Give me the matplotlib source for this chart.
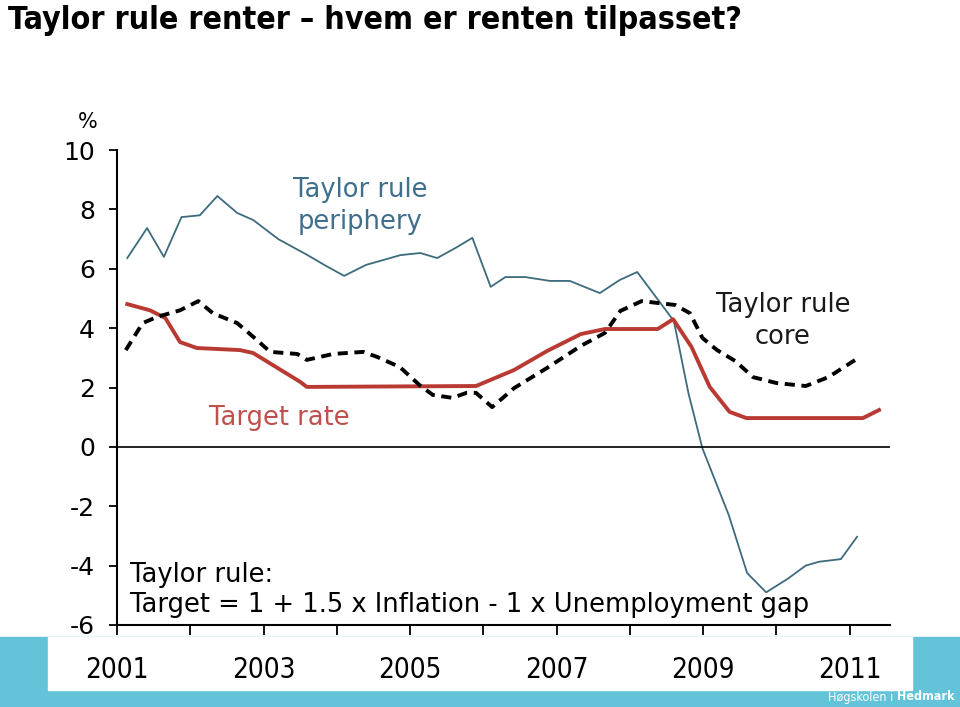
import matplotlib.pyplot as plt
from matplotlib.patches import Rectangle

# data (year, percent)
periphery_x = [2001.14, 2001.41, 2001.64, 2001.88, 2002.13, 2002.37, 2002.64, 2002.86,
               2003.2, 2003.6, 2003.85, 2004.1, 2004.4, 2004.87, 2005.14, 2005.37,
               2005.62, 2005.85, 2006.1, 2006.3, 2006.57, 2006.91, 2007.18, 2007.59,
               2007.86, 2008.1, 2008.6, 2008.8, 2008.99, 2009.35, 2009.6, 2009.86,
               2010.15, 2010.4, 2010.58, 2010.88, 2011.1]
periphery_y = [6.36, 7.37, 6.4, 7.74, 7.8, 8.45, 7.88, 7.64,
               7.0, 6.46, 6.1, 5.76, 6.13, 6.46, 6.53, 6.36,
               6.7, 7.04, 5.39, 5.72, 5.72, 5.59, 5.59, 5.18,
               5.62, 5.89, 4.24, 1.8, -0.05, -2.3, -4.25, -4.9,
               -4.45, -4.0, -3.87, -3.78, -3.03]

core_x = [2001.12, 2001.35, 2001.55, 2001.86, 2002.11, 2002.31, 2002.64, 2002.91,
          2003.09, 2003.46, 2003.59, 2003.95, 2004.36, 2004.55, 2004.86, 2005.13,
          2005.31, 2005.58, 2005.77, 2005.9, 2006.12, 2006.42, 2006.87, 2007.33,
          2007.66, 2007.87, 2008.16, 2008.37, 2008.62, 2008.82, 2008.99, 2009.19,
          2009.44, 2009.68, 2010.0, 2010.4, 2010.71, 2011.12]
core_y = [3.26, 4.17, 4.38, 4.6, 4.91, 4.5, 4.17, 3.6,
          3.2, 3.13, 2.93, 3.13, 3.2, 3.03, 2.69, 2.08,
          1.75, 1.65, 1.82, 1.82, 1.34, 1.98, 2.66, 3.4,
          3.84, 4.58, 4.91, 4.85, 4.78, 4.5, 3.67, 3.26,
          2.89, 2.35, 2.15, 2.05, 2.35, 3.0]

target_x = [2001.14, 2001.45, 2001.66, 2001.86, 2002.09, 2002.68, 2002.86, 2003.5,
            2003.59, 2005.9, 2006.42, 2006.87, 2007.33, 2007.66, 2008.38, 2008.59,
            2008.84, 2009.09, 2009.36, 2009.59, 2011.18, 2011.4]
target_y = [4.81, 4.6, 4.34, 3.53, 3.33, 3.26, 3.16, 2.19,
            2.02, 2.05, 2.59, 3.23, 3.8, 3.97, 3.97, 4.3,
            3.37, 2.02, 1.18, 0.97, 0.97, 1.24]

year_ticks = list(range(2001, 2012))
year_labels = ["2001", "2003", "2005", "2007", "2009", "2011"]
y_ticks = [-6, -4, -2, 0, 2, 4, 6, 8, 10]

blue = "#3d6b7d"
red = "#b93a32"

fig = plt.figure(figsize=(9.6, 7.07), dpi=100)

# footer band
fig.patches.append(Rectangle((0, 0), 1, 70 / 707, transform=fig.transFigure,
                             color="#63c3d9", zorder=-2))
fig.patches.append(Rectangle((48 / 960, 17 / 707), 864 / 960, 53 / 707,
                             transform=fig.transFigure, color="white", zorder=-1))
fig.text(893 / 960, 10 / 707, "Høgskolen i", color="white", fontsize=9,
         stretch="condensed", ha="right", va="center")
fig.text(897 / 960, 10 / 707, "Hedmark", color="white", fontsize=9,
         stretch="condensed", weight="bold", ha="left", va="center")

fig.text(8 / 960, 1 - 20 / 707, "Taylor rule renter – hvem er renten tilpasset?",
         fontsize=23, weight="bold", stretch="condensed", ha="left", va="center")

ax = fig.add_axes([117 / 960, 82 / 707, 773 / 960, 475 / 707])
ax.patch.set_alpha(0)

ax.plot(periphery_x, periphery_y, color=blue, lw=1.3)
ax.plot(target_x, target_y, color=red, lw=2.8, solid_joinstyle="round")
ax.plot(core_x, core_y, color="black", lw=2.8, dashes=(2.6, 1.7))
ax.axhline(0, color="black", lw=1.2)

ax.set_xlim(2001, 2011.55)
ax.set_ylim(-6, 10)
for s in ["top", "right"]:
    ax.spines[s].set_visible(False)
ax.spines["left"].set_linewidth(1.5)
ax.spines["bottom"].set_linewidth(1.5)

ax.set_yticks(y_ticks)
ax.set_yticklabels([str(v) for v in y_ticks])
ax.tick_params(axis="y", length=6, width=1.3, labelsize=18, pad=10)

ax.set_xticks(year_ticks)
ax.set_xticklabels([str(y) if str(y) in year_labels else "" for y in year_ticks])
ax.tick_params(axis="x", length=7, width=1.3, labelsize=20, pad=15)
for lab in ax.get_xticklabels():
    lab.set_fontstretch("condensed")

ax.text(2000.6, 10.95, "%", fontsize=15, ha="center", va="center", clip_on=False)

ax.text(2004.32, 8.1, "Taylor rule\nperiphery", color="#3f6f8c", fontsize=18.5,
        ha="center", va="center", linespacing=1.3)
ax.text(2010.09, 4.24, "Taylor rule\ncore", color="#1a1a1a", fontsize=18.5,
        ha="center", va="center", linespacing=1.3)
ax.text(2003.21, 0.97, "Target rate", color="#c0504d", fontsize=18.5,
        ha="center", va="center")
ax.text(2001.18, -4.31, "Taylor rule:", fontsize=18.5, ha="left", va="center")
ax.text(2001.18, -5.33, "Target = 1 + 1.5 x Inflation - 1 x Unemployment gap",
        fontsize=18.5, ha="left", va="center")

plt.savefig("out.png", dpi=100)
